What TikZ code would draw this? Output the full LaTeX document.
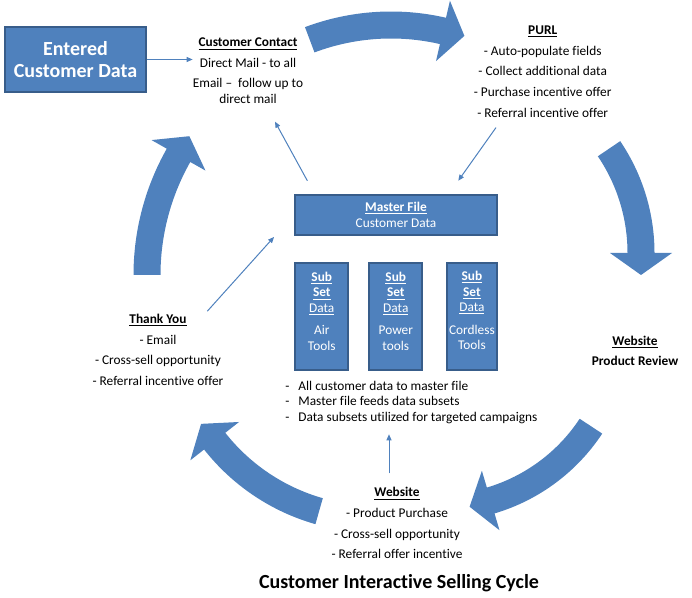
\documentclass[tikz,border=0pt]{standalone}
\usepackage{fontspec}
\setmainfont{Carlito}[Ligatures=NoCommon]
\usepackage{tikz}
\usetikzlibrary{calc,arrows.meta}

\definecolor{cycleblue}{HTML}{4F81BD}
\definecolor{boxedge}{HTML}{385D8A}

\tikzset{
    bluebox/.style={draw=boxedge, line width=1.5pt, fill=cycleblue, inner sep=0pt},
    note/.style={align=center, inner sep=0pt, font=\fontsize{10}{11.8}\selectfont},
    boxnote/.style={note, text=white},
    link/.style={draw=cycleblue, line width=0.75pt, -{Triangle[length=4.5pt,width=3.75pt]}},
}

\begin{document}
\begin{tikzpicture}[x=0.75pt, y=0.75pt]
        \useasboundingbox (0,0) rectangle (692,-598);

        % the five curved arrows of the cycle
        \foreach \cx/\cy/\r/\a/\b in {391/-256/231/110.6/77, 455/-253/186/34.1/0, 439/-326/182/-33.4/-73.5, 375/-315/204/-105.9/-141.8, 390/-275/243/180/150.5}
            \fill[cycleblue] ($(\cx,\cy)+({\a}:{\r+13.5})$) arc[start angle=\a, end angle=\b, radius={(\r+13.5)*0.75pt}]
                -- ($(\cx,\cy)+({\b}:{\r+31})$) -- ($(\cx,\cy)+({\b}:{\r})+({\b-90}:22)$) -- ($(\cx,\cy)+({\b}:{\r-31})$)
                -- ($(\cx,\cy)+({\b}:{\r-13.5})$) arc[start angle=\b, end angle=\a, radius={(\r-13.5)*0.75pt}] -- cycle;

        \node[bluebox, minimum width=105.3pt, minimum height=49.2pt, text=white, align=center, font=\fontsize{15}{17}\selectfont\bfseries] (entered) at (75.5,-59.5) {Entered\\Customer Data};

        \node[note] (contact) at (248,-70.9) {\textbf{\underline{Customer Contact}}\\[3.6pt] Direct Mail - to all\\[3.6pt] Email –\ \ follow up to\\ direct mail};
        \node[note] (purl) at (542.7,-71.4) {\textbf{\underline{PURL}}\\[3.7pt] - Auto-populate fields\\[3.7pt] - Collect additional data\\[3.7pt] - Purchase incentive offer\\[3.7pt] - Referral incentive offer};
        \node[note] (thank) at (158,-350) {\textbf{\underline{Thank You}}\\[3.7pt] - Email\\[3.7pt] - Cross-sell opportunity\\[3.7pt] - Referral incentive offer};
        \node[note] (review) at (635,-350.9) {\textbf{\underline{Website}}\\[3.7pt] \textbf{Product Review}};
        \node[note] (purchase) at (397,-523.3) {\textbf{\underline{Website}}\\[3.7pt] - Product Purchase\\[3.7pt] - Cross-sell opportunity\\[3.7pt] - Referral offer incentive};

        \node[bluebox, boxnote, minimum width=151pt, minimum height=29.5pt] (master) at (396,-215) {\textbf{\underline{Master File}}\\ Customer Data};

        \node[bluebox, minimum width=39.75pt, minimum height=80.25pt] (air) at (321.8,-316.2) {};
        \node[bluebox, minimum width=39.75pt, minimum height=80.25pt] (power) at (395.8,-316.2) {};
        \node[bluebox, minimum width=37.3pt, minimum height=80.25pt] (cordless) at (471.9,-316.2) {};
        \node[boxnote] (airtext) at (321.8,-311.3) {\textbf{\underline{Sub}}\\ \textbf{\underline{Set}}\\ \underline{Data}\\[5pt] Air\\ Tools};
        \node[boxnote] (powertext) at (395.8,-311.3) {\textbf{\underline{Sub}}\\ \textbf{\underline{Set}}\\ \underline{Data}\\[5pt] Power\\ tools};
        \node[boxnote] (cordlesstext) at (471.9,-310.5) {\textbf{\underline{Sub}}\\ \textbf{\underline{Set}}\\ \underline{Data}\\[5pt] Cordless\\ Tools};

        \node[note, align=left, anchor=west] (notes) at (285,-402.5) {\makebox[9.9pt][l]{-}All customer data to master file\\ \makebox[9.9pt][l]{-}Master file feeds data subsets\\ \makebox[9.9pt][l]{-}Data subsets utilized for targeted campaigns};

        \node[inner sep=0pt, font=\fontsize{15}{18}\selectfont\bfseries] (title) at (399,-583.3) {Customer Interactive Selling Cycle};

        \draw[link] (entered.east) -- (entered.east -| contact.west);
        \draw[link] ([shift={(13,13.6)}]master.north west) -- ([shift={(27,-17.7)}]contact.south);
        \draw[link] ([shift={(-46.7,-10.2)}]purl.south) -- ([shift={(-39.4,13.6)}]master.north east);
        \draw[link] ([shift={(49.3,2.8)}]thank.north) -- ([shift={(-20.3,-1.3)}]master.south west);
        \coordinate (feed) at ([shift={(-8,14)}]purchase.north);
        \draw[link, shorten >=7.5pt] (feed) -- (feed |- notes.south);
    \end{tikzpicture}
\end{document}
